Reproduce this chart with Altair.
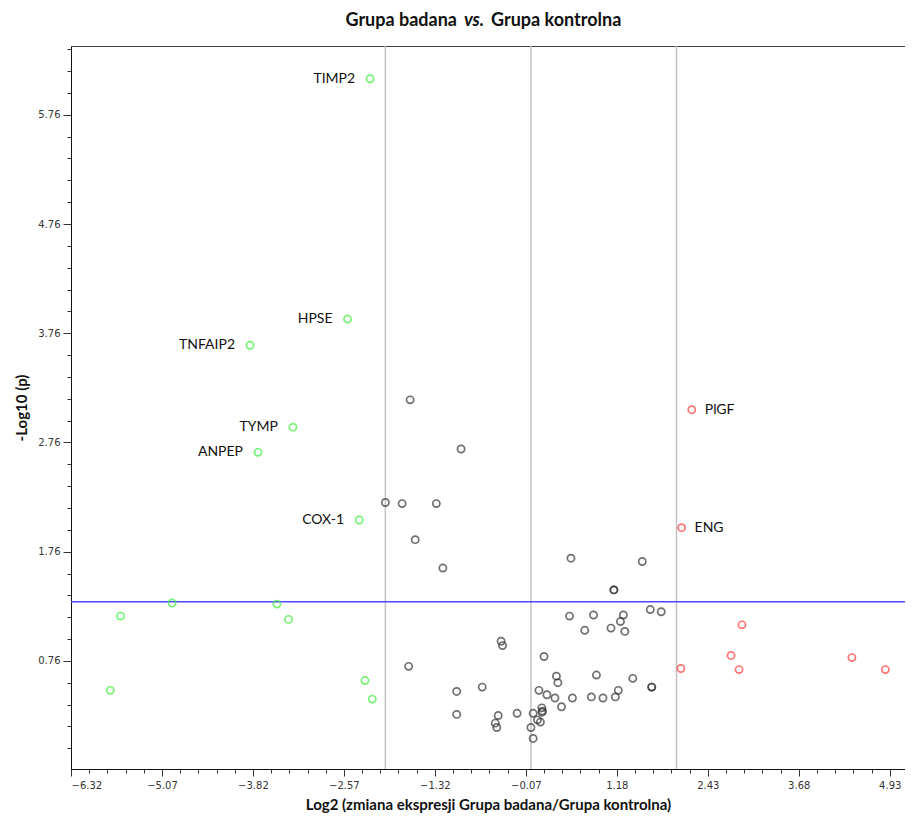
import altair as alt
import pandas as pd

# ---- data ----
down_x = [-2.21, -2.52, -3.86, -3.27, -3.75, -2.36, -5.64, -4.93, -3.49, -3.33, -5.78, -2.28, -2.18]
down_y = [6.09, 3.89, 3.65, 2.90, 2.67, 2.05, 1.17, 1.29, 1.28, 1.14, 0.49, 0.58, 0.41]
down_lbl = ["TIMP2", "HPSE", "TNFAIP2", "TYMP", "ANPEP", "COX-1", "", "", "", "", "", "", ""]

up_x = [2.21, 2.07, 2.90, 2.75, 2.06, 2.86, 4.41, 4.87]
up_y = [3.06, 1.98, 1.09, 0.81, 0.69, 0.68, 0.79, 0.68]
up_lbl = ["PlGF", "ENG", "", "", "", "", "", ""]

ns_x = [-1.66, -0.96, -2.00, -1.77, -1.30, -1.59, -1.21, 0.55, 1.53, 1.14, 1.14,
        0.53, 0.86, 1.27, 1.64, 1.79, 1.23, 1.10, 1.29, 0.74, -0.41, -0.39, 0.18,
        -1.68, 0.35, 0.37, 0.90, 1.40, 1.66, 1.66, 1.20, 1.16, 0.99, 0.83, 0.57,
        0.42, 0.33, 0.22, 0.11, -0.67, -1.02, -1.02, -0.45, -0.49, -0.47, -0.19,
        0.03, 0.15, 0.16, 0.15, 0.09, 0.13, 0.00, 0.03]
ns_y = [3.15, 2.70, 2.21, 2.20, 2.20, 1.87, 1.61, 1.70, 1.67, 1.41, 1.41,
        1.17, 1.18, 1.18, 1.23, 1.21, 1.12, 1.06, 1.03, 1.04, 0.94, 0.90, 0.80,
        0.71, 0.62, 0.56, 0.63, 0.60, 0.52, 0.52, 0.49, 0.43, 0.42, 0.43, 0.42,
        0.34, 0.42, 0.45, 0.49, 0.52, 0.48, 0.27, 0.26, 0.19, 0.15, 0.28,
        0.28, 0.33, 0.30, 0.29, 0.22, 0.20, 0.15, 0.05]

x_ticks = [-6.32, -5.07, -3.82, -2.57, -1.32, -0.07, 1.18, 2.43, 3.68, 4.93]
y_ticks = [0.76, 1.76, 2.76, 3.76, 4.76, 5.76]
fc_lines = [-2, 0, 2]
p_line = [1.301]

x_dom = [-6.32, 5.14]
y_dom = [-0.23, 6.39]

x_minor = [round(-6.32 + 0.25 * i, 2) for i in range(46)]
y_minor = [round(-0.04 + 0.2 * i, 2) for i in range(33)]

df = pd.concat([
    pd.DataFrame({"x": down_x, "y": down_y, "label": down_lbl, "grp": "down"}),
    pd.DataFrame({"x": ns_x, "y": ns_y, "label": "", "grp": "ns"}),
    pd.DataFrame({"x": up_x, "y": up_y, "label": up_lbl, "grp": "up"}),
], ignore_index=True)

xs = alt.Scale(domain=x_dom, nice=False, zero=False)
ys = alt.Scale(domain=y_dom, nice=False, zero=False)

x_major_axis = alt.Axis(values=x_ticks, orient="bottom", format=".2f",
                        title="Log2 (zmiana ekspresji Grupa badana/Grupa kontrolna)",
                        tickSize=7, labelPadding=4, titlePadding=7)
y_major_axis = alt.Axis(values=y_ticks, orient="left", format=".2f",
                        title="-Log10 (p)", tickSize=8, labelPadding=3, titlePadding=8)

base = alt.Chart(df)

points = base.mark_point(shape="circle", filled=False, size=52, strokeWidth=1.7).encode(
    x=alt.X("x:Q", scale=xs, axis=x_major_axis),
    y=alt.Y("y:Q", scale=ys, axis=y_major_axis),
    color=alt.Color("grp:N", scale=alt.Scale(domain=["down", "ns", "up"],
                                             range=["#3ef03e", "#333333", "#ff3a3a"]),
                    legend=None),
)

lbl_left = base.transform_filter("datum.label != '' && datum.grp == 'down'").mark_text(
    align="right", baseline="middle", dx=-15, fontSize=14, font="Lato", color="#111"
).encode(x=alt.X("x:Q", scale=xs, axis=None), y=alt.Y("y:Q", scale=ys, axis=None),
         text="label:N")

lbl_right = base.transform_filter("datum.label != '' && datum.grp == 'up'").mark_text(
    align="left", baseline="middle", dx=13, fontSize=14, font="Lato", color="#111"
).encode(x=alt.X("x:Q", scale=xs, axis=None), y=alt.Y("y:Q", scale=ys, axis=None),
         text="label:N")

vrules = alt.Chart(pd.DataFrame({"x": fc_lines})).mark_rule(
    color="#c4c4c4", strokeWidth=1.5
).encode(x=alt.X("x:Q", scale=xs,
                 axis=alt.Axis(values=x_minor, orient="bottom", labels=False, title=None,
                               tickSize=4, domain=False)))

hrule = alt.Chart(pd.DataFrame({"y": p_line})).mark_rule(
    color="#4a4aff", strokeWidth=1.5
).encode(y=alt.Y("y:Q", scale=ys,
                 axis=alt.Axis(values=y_minor, orient="left", labels=False, title=None,
                               tickSize=4, domain=False)))

t1 = alt.Chart(pd.DataFrame({"t": ["Grupa badana"]})).mark_text(
    align="right", baseline="middle", fontSize=18, fontWeight="bold", font="Lato", color="#111"
).encode(text="t:N", x=alt.value(386), y=alt.value(-25))
t2 = alt.Chart(pd.DataFrame({"t": ["vs."]})).mark_text(
    align="center", baseline="middle", fontSize=18, fontWeight="bold", fontStyle="italic",
    font="Lato", color="#111"
).encode(text="t:N", x=alt.value(403), y=alt.value(-25))
t3 = alt.Chart(pd.DataFrame({"t": ["Grupa kontrolna"]})).mark_text(
    align="left", baseline="middle", fontSize=18, fontWeight="bold", font="Lato", color="#111"
).encode(text="t:N", x=alt.value(420), y=alt.value(-25))

chart = alt.layer(vrules, hrule, points, lbl_left, lbl_right, t1, t2, t3).resolve_axis(
    x="independent", y="independent"
).properties(
    width=834, height=723,
    autosize=alt.AutoSizeParams(type="none"),
    padding={"left": 63, "top": 38, "right": 0, "bottom": 44},
).configure_view(
    stroke="#444", strokeWidth=1
).configure_axis(
    grid=False, domainColor="#111", tickColor="#333", labelColor="#333",
    labelFont="DejaVu Sans", labelFontSize=10, titleFont="Lato", titleFontSize=15,
    titleFontWeight="bold", titleColor="#111"
)

chart.save("out.html", embed_options={"renderer": "svg", "actions": False})
